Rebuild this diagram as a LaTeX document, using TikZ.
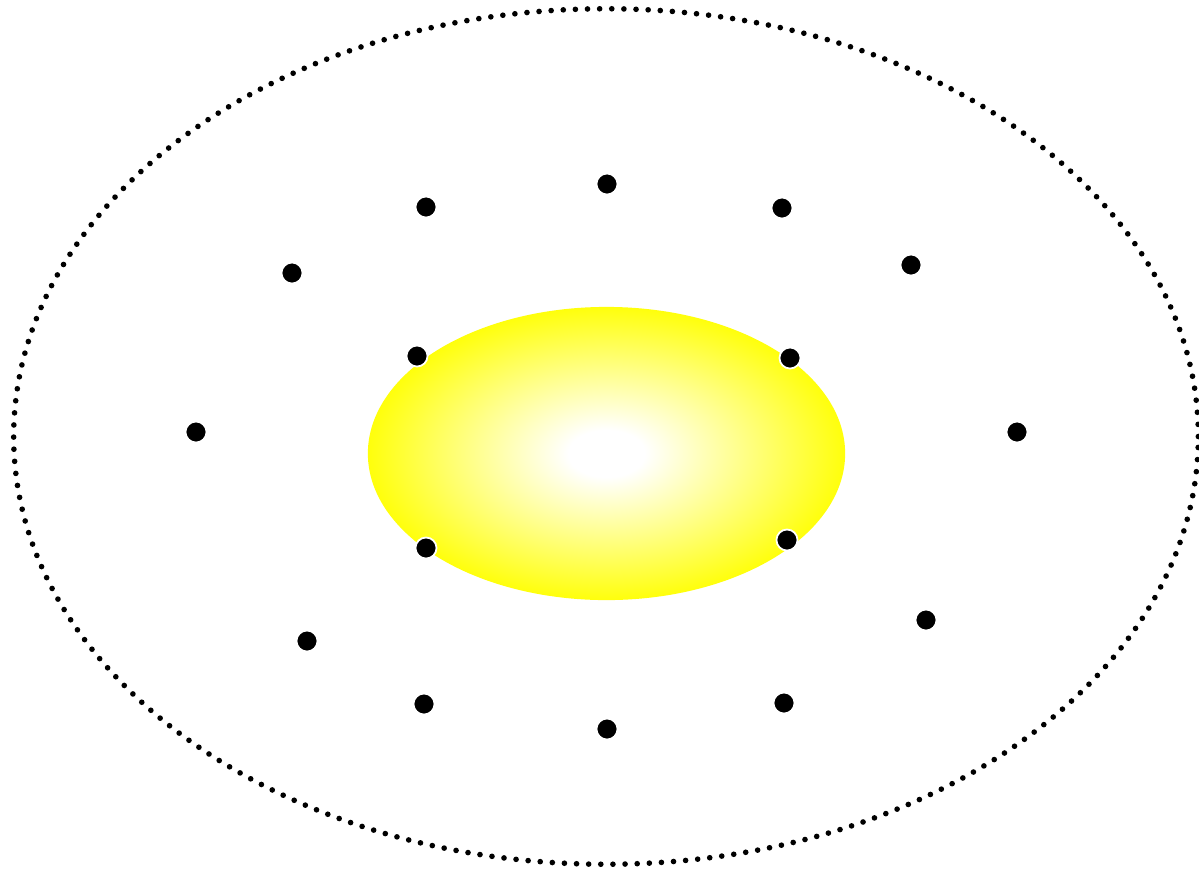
\documentclass[tikz,border=0pt]{standalone}
\usetikzlibrary{shapes.geometric}
\pgfdeclareradialshading{glow}{\pgfpoint{0bp}{0bp}}{color(0bp)=(white);color(4bp)=(white);color(26bp)=(yellow);color(50bp)=(yellow)}

\begin{document}
\begin{tikzpicture}[x=0.01cm,y=-0.01cm,dot/.style={circle,fill=black,draw=white,line width=0.5pt,inner sep=0pt,minimum size=2.1mm},halo/.style={draw=black,line width=1.6pt,dash pattern=on 0pt off 3.45pt,line cap=round}]
\useasboundingbox (0,0) rectangle (1199,872);
\node[ellipse,halo,minimum width=11.84cm,minimum height=8.55cm,inner sep=0pt](outer) at (606,436.5){};
\node[ellipse,shading=glow,minimum width=4.77cm,minimum height=2.93cm,inner sep=0pt](core) at (606.5,453.5){};
\foreach \n/\x/\y in {a/426/207,b/607/184,c/782/208,d/292/273,e/911/265,f/417/356,g/790/358,h/196/432,i/1017/432,j/426/548,k/787/540,l/307/641,m/926/620,n/424/704,o/607/729,p/784/703}{\node[dot](\n) at (\x,\y){};}
\end{tikzpicture}
\end{document}
